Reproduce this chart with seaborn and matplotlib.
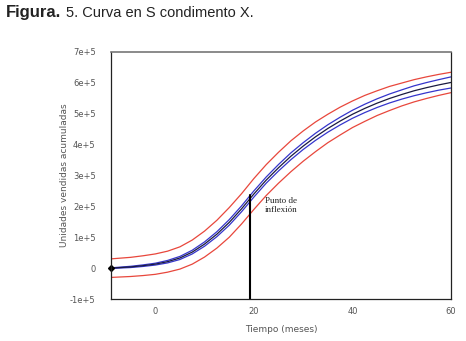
import numpy as np
import pandas as pd
import matplotlib
matplotlib.use("Agg")
import matplotlib.pyplot as plt
import seaborn as sns

# time (months) and curves, in units of 1e5
meses = [-9, -5, -2.5, 0, 2.5, 5, 7.5, 10, 12.5, 15, 17.5, 20, 22.5, 25, 27.5,
         30, 32.5, 35, 37.5, 40, 42.5, 45, 47.5, 50, 52.5, 55, 57.5, 60]
central = [0.00, 0.04, 0.08, 0.13, 0.21, 0.33, 0.52, 0.78, 1.10, 1.48, 1.92, 2.40, 2.85, 3.25,
           3.62, 3.95, 4.25, 4.52, 4.76, 4.98, 5.17, 5.34, 5.49, 5.62, 5.74, 5.84, 5.93, 6.01]
azul_sup = [0.01, 0.06, 0.105, 0.16, 0.25, 0.38, 0.58, 0.85, 1.18, 1.57, 2.015, 2.50, 2.95, 3.355,
            3.73, 4.06, 4.365, 4.64, 4.885, 5.11, 5.305, 5.48, 5.635, 5.77, 5.90, 6.005, 6.10, 6.19]
azul_inf = [-0.01, 0.02, 0.055, 0.10, 0.17, 0.28, 0.46, 0.71, 1.02, 1.39, 1.825, 2.30, 2.75, 3.145,
            3.51, 3.84, 4.135, 4.40, 4.635, 4.85, 5.035, 5.20, 5.345, 5.47, 5.58, 5.675, 5.76, 5.83]
rojo_sup = [0.30, 0.35, 0.40, 0.46, 0.55, 0.69, 0.91, 1.20, 1.55, 1.96, 2.41, 2.90, 3.35, 3.75,
            4.12, 4.44, 4.73, 4.98, 5.21, 5.41, 5.59, 5.74, 5.88, 5.99, 6.10, 6.19, 6.27, 6.34]
rojo_inf = [-0.30, -0.27, -0.24, -0.20, -0.13, -0.03, 0.13, 0.36, 0.65, 1.00, 1.43, 1.90, 2.35, 2.75,
            3.12, 3.46, 3.77, 4.06, 4.31, 4.55, 4.75, 4.94, 5.10, 5.25, 5.38, 5.49, 5.59, 5.68]

t_inflexion = 19.3
y_inflexion = 2.36

yticks = [-1, 0, 1, 2, 3, 4, 5, 6, 7]
ytick_labels = ["-1e+5", "0", "1e+5", "2e+5", "3e+5", "4e+5", "5e+5", "6e+5", "7e+5"]
xticks = [0, 20, 40, 60]

df = pd.DataFrame({"t": meses, "central": central, "azul_sup": azul_sup, "azul_inf": azul_inf,
                   "rojo_sup": rojo_sup, "rojo_inf": rojo_inf})

sns.set_style("white")
plt.rcParams['font.family'] = ['DejaVu Sans']

fig = plt.figure(figsize=(4.66, 3.41), dpi=100)
ax = fig.add_axes([0.238, 0.123, 0.730, 0.725])

rojo = "#e8473c"
azul = "#3535cc"
for col in ["rojo_sup", "rojo_inf"]:
    sns.lineplot(data=df, x="t", y=col, ax=ax, color=rojo, lw=0.9)
for col in ["azul_sup", "azul_inf"]:
    sns.lineplot(data=df, x="t", y=col, ax=ax, color=azul, lw=0.9)
sns.lineplot(data=df, x="t", y="central", ax=ax, color="#1a1a40", lw=0.9)

# inflection line
ax.plot([t_inflexion, t_inflexion], [-1, y_inflexion], color="black", lw=1.5)
ax.plot([meses[0]], [central[0]], marker="D", color="black", ms=3, clip_on=False)
ax.text(t_inflexion + 3.0, y_inflexion - 0.05, "Punto de\ninflexión", fontsize=6.5,
        family="Liberation Serif", va="top", ha="left", color="#222222", linespacing=1.2)

ax.set_xlim(-9, 60)
ax.set_ylim(-1, 7)
ax.set_yticks(yticks)
ax.set_yticklabels(ytick_labels)
ax.set_xticks(xticks)
ax.tick_params(axis="both", direction="out", length=3, width=0.8, colors="#333333",
               labelsize=6, labelcolor="#555555", pad=3)
ax.tick_params(axis="y", pad=8)
ax.set_xlabel("Tiempo (meses)", fontsize=6.5, color="#555555", labelpad=6)
ax.set_ylabel("Unidades vendidas acumuladas", fontsize=6.5, color="#555555", labelpad=1)
for s in ["left", "bottom", "right"]:
    ax.spines[s].set_color("#222222")
    ax.spines[s].set_linewidth(0.9)
ax.spines["top"].set_color("#777777")
ax.spines["top"].set_linewidth(1.2)

fig.text(0.012, 0.962, "Figura.", fontsize=12, fontweight="bold", color="#222222",
         family=["Liberation Sans Narrow", "Liberation Sans"], va="center")
fig.text(0.142, 0.962, "5. Curva en S condimento X.", fontsize=10.5, color="#222222",
         family=["Liberation Sans Narrow", "Liberation Sans"], va="center")

fig.savefig("out.png", dpi=100)
